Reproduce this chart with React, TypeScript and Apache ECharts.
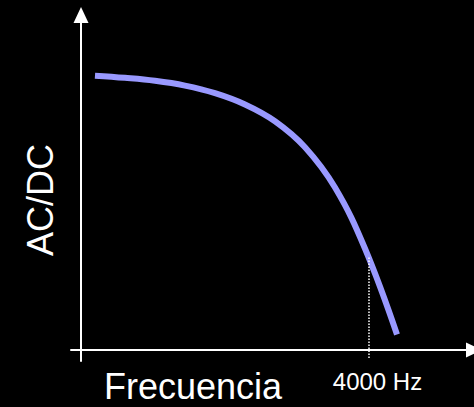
import { useEffect, useRef } from "react";
import * as echarts from "echarts";

// Frequency (Hz) and AC/DC ratio (arbitrary units, 0..100 scale)
const freqHz = [194, 611, 1028, 1444, 1861, 2278, 2694, 3111, 3528, 3944, 4389];
const acdc = [81.9, 81.25, 80.36, 78.93, 76.69, 73.31, 68.3, 60.54, 48.51, 30.3, 4.63];
const cutoffHz = 4000;
const cutoffLevel = 27.6;
const cutoffLabel = "4000 Hz";
const xName = "Frecuencia";
const yName = "AC/DC";

const FONT = "'Liberation Sans', Arial, sans-serif";

export default function App() {
  const ref = useRef<HTMLDivElement>(null);
  useEffect(() => {
    document.body.style.margin = "0";
    const chart = echarts.init(ref.current!, null, { renderer: "svg" });
    const data = freqHz.map((f, i) => [f, acdc[i]]);
    chart.setOption({
      animation: false,
      backgroundColor: "#000000",
      grid: { left: 71, right: 0, top: 15, bottom: 46, containLabel: false },
      xAxis: {
        type: "value",
        min: -138.9,
        max: 5458.3,
        axisLine: {
          onZero: true,
          lineStyle: { color: "#ffffff", width: 2 },
          symbol: ["none", "triangle"],
          symbolSize: [15, 16],
        },
        axisTick: { show: false },
        axisLabel: { show: false },
        splitLine: { show: false },
      },
      yAxis: {
        type: "value",
        min: -3.284,
        max: 100,
        axisLine: {
          onZero: true,
          lineStyle: { color: "#ffffff", width: 2 },
          symbol: ["none", "triangle"],
          symbolSize: [15, 16],
        },
        axisTick: { show: false },
        axisLabel: { show: false },
        splitLine: { show: false },
      },
      series: [
        {
          type: "line",
          data,
          smooth: 0.4,
          showSymbol: false,
          silent: true,
          lineStyle: { color: "#9999ff", width: 6, cap: "butt" },
          markLine: {
            silent: true,
            symbol: ["none", "none"],
            label: { show: false },
            lineStyle: { color: "#ffffff", width: 1.5, type: [1.5, 1.5] },
            data: [
              [
                { coord: [cutoffHz, cutoffLevel] },
                { coord: [cutoffHz, -2.4] },
              ],
            ],
          },
          z: 3,
        },
      ],
      graphic: [
        {
          type: "text",
          x: 40,
          y: 200,
          rotation: Math.PI / 2,
          style: {
            text: yName,
            fill: "#ffffff",
            font: `36px ${FONT}`,
            align: "center",
            verticalAlign: "middle",
          },
        },
        {
          type: "text",
          x: 193,
          y: 386,
          style: {
            text: xName,
            fill: "#ffffff",
            font: `36px ${FONT}`,
            align: "center",
            verticalAlign: "middle",
          },
        },
        {
          type: "text",
          x: 377.5,
          y: 381,
          style: {
            text: cutoffLabel,
            fill: "#ffffff",
            font: `24px ${FONT}`,
            align: "center",
            verticalAlign: "middle",
          },
        },
      ],
    });
    return () => chart.dispose();
  }, []);
  return (
    <div
      ref={ref}
      style={{ position: "absolute", left: 0, top: 0, width: 474, height: 407, background: "#000" }}
    />
  );
}
